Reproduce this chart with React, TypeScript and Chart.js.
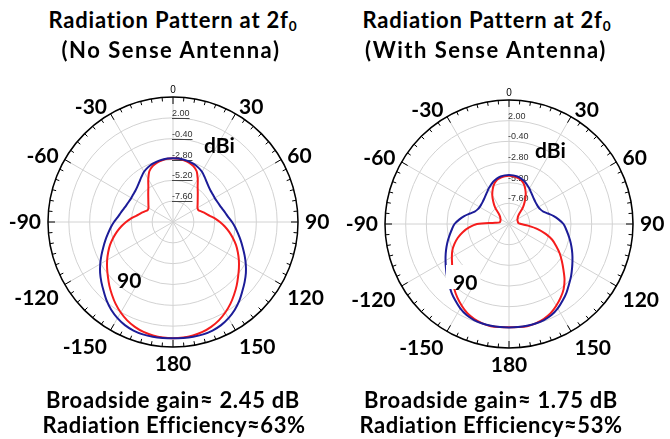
import React, { useEffect, useRef } from 'react';
import { Chart, registerables } from 'chart.js';

Chart.register(...registerables);

// Angle categories (degrees, clockwise from top; 185..355 are -175..-5)
const angles = [
  0, 5, 10, 15, 20, 25, 30, 35, 40, 45, 50, 55, 60, 65, 70, 75, 80, 85,
  90, 95, 100, 105, 110, 115, 120, 125, 130, 135, 140, 145, 150, 155, 160, 165, 170, 175,
  180, 185, 190, 195, 200, 205, 210, 215, 220, 225, 230, 235, 240, 245, 250, 255, 260, 265,
  270, 275, 280, 285, 290, 295, 300, 305, 310, 315, 320, 325, 330, 335, 340, 345, 350, 355,
];

// Angular tick labels
const angleTickValues = [0, 30, 60, 90, 120, 150, 180, 210, 240, 270, 300, 330];
const angleTickLabels = ['0', '30', '60', '90', '120', '150', '180', '-150', '-120', '-90', '-60', '-30'];

// Radial axis (dBi)
const ringValues = [-10, -7.6, -5.2, -2.8, -0.4, 2.0, 4.4];
const radialLabelValues = [2.0, -0.4, -2.8, -5.2, -7.6];

// Left: No Sense Antenna
const leftBlue = [
  -2.66, -2.67, -2.72, -2.79, -2.91, -3.09, -3.32, -3.66, -3.97, -4.21, -4.36, -4.42, -4.45, -4.40, -4.29, -4.12, -3.89, -3.61,
  -3.20, -2.80, -2.40, -1.94, -1.45, -0.90, -0.32, 0.25, 0.77, 1.29, 1.87, 2.38, 2.79, 3.11, 3.31, 3.40, 3.42, 3.41,
  3.40, 3.41, 3.42, 3.40, 3.31, 3.11, 2.79, 2.38, 1.87, 1.29, 0.77, 0.25, -0.32, -0.90, -1.45, -1.94, -2.40, -2.80,
  -3.20, -3.61, -3.89, -4.12, -4.29, -4.40, -4.45, -4.42, -4.36, -4.21, -3.97, -3.66, -3.32, -3.09, -2.91, -2.79, -2.72, -2.67,
];
const leftRed = [
  -2.66, -2.68, -2.77, -2.92, -3.15, -3.55, -4.30, -5.05, -5.56, -5.97, -6.29, -6.54, -6.74, -6.77, -6.49, -6.14, -5.74, -5.16,
  -4.59, -4.01, -3.43, -2.86, -2.28, -1.76, -1.24, -0.73, -0.21, 0.37, 0.94, 1.52, 2.04, 2.50, 2.85, 3.11, 3.27, 3.36,
  3.39, 3.36, 3.27, 3.11, 2.85, 2.50, 2.04, 1.52, 0.94, 0.37, -0.21, -0.73, -1.24, -1.76, -2.28, -2.86, -3.43, -4.01,
  -4.59, -5.16, -5.74, -6.14, -6.49, -6.77, -6.74, -6.54, -6.29, -5.97, -5.56, -5.05, -4.30, -3.55, -3.15, -2.92, -2.77, -2.68,
];

// Right: With Sense Antenna
const rightBlue = [
  -4.31, -4.33, -4.40, -4.54, -4.74, -5.01, -5.26, -5.53, -5.74, -5.90, -6.01, -6.06, -6.06, -5.98, -5.76, -5.30, -4.72, -4.19,
  -3.67, -3.36, -3.03, -2.66, -2.28, -1.89, -1.49, -1.06, -0.59, -0.13, 0.39, 0.86, 1.32, 1.67, 1.87, 1.96, 2.00, 2.01,
  2.01, 2.01, 2.00, 1.96, 1.87, 1.67, 1.32, 0.86, 0.39, -0.13, -0.59, -1.06, -1.49, -1.89, -2.28, -2.66, -3.03, -3.36,
  -3.67, -4.19, -4.72, -5.30, -5.76, -5.98, -6.06, -6.06, -6.01, -5.90, -5.74, -5.53, -5.26, -5.01, -4.74, -4.54, -4.40, -4.33,
];
const rightRed = [
  -4.39, -4.43, -4.54, -4.68, -5.01, -5.53, -6.11, -6.81, -7.48, -8.32, -8.63, -8.77, -8.86, -8.92, -8.94, -8.94, -8.93, -8.89,
  -8.61, -7.79, -6.63, -5.59, -4.66, -3.96, -3.21, -2.51, -1.75, -0.88, -0.13, 0.45, 0.97, 1.44, 1.75, 1.94, 2.05, 2.02,
  2.00, 2.02, 2.05, 1.94, 1.75, 1.44, 0.97, 0.45, -0.13, -0.83, -1.41, -1.93, -2.34, -2.74, -3.26, -3.85, -4.54, -5.35,
  -6.28, -8.37, -8.90, -8.94, -8.94, -8.92, -8.86, -8.77, -8.63, -8.32, -7.48, -6.81, -6.11, -5.53, -5.01, -4.68, -4.54, -4.43,
];

const BLUE = '#1c1c98';
const RED = '#f51c1c';
const GRID = '#d2d2d2';
const LABEL_FONT = 'bold 21px Lato, "Open Sans", sans-serif';

type Decor = {
  underline: boolean;
  dbi: [number, number];
  inner90: [number, number];
  backdrop: boolean;
};

function makeDecor(o: Decor) {
  return {
    id: 'polarDecor',
    beforeDatasetsDraw(chart: any) {
      const s = chart.scales.r;
      const ctx = chart.ctx as CanvasRenderingContext2D;
      ctx.save();
      ctx.font = '9px "Liberation Sans", Arial, sans-serif';
      ctx.fillStyle = '#333';
      ctx.textAlign = 'left';
      ctx.textBaseline = 'alphabetic';
      radialLabelValues.forEach((v) => {
        const txt = v.toFixed(2);
        const d = s.getDistanceFromCenterForValue(v);
        const x = s.xCenter - 1;
        const y = s.yCenter - d;
        ctx.fillText(txt, x, y - 2);
        if (o.underline) {
          const w = ctx.measureText(txt).width;
          ctx.strokeStyle = '#444';
          ctx.lineWidth = 1;
          ctx.beginPath();
          ctx.moveTo(x, Math.round(y) + 0.5);
          ctx.lineTo(x + w, Math.round(y) + 0.5);
          ctx.stroke();
        }
      });
      ctx.restore();
    },
    afterDatasetsDraw(chart: any) {
      const s = chart.scales.r;
      const ctx = chart.ctx as CanvasRenderingContext2D;
      const R = s.getDistanceFromCenterForValue(s.max);
      ctx.save();
      // outer black circle with ticks
      ctx.strokeStyle = '#000';
      ctx.lineWidth = 1.5;
      ctx.beginPath();
      ctx.arc(s.xCenter, s.yCenter, R, 0, Math.PI * 2);
      ctx.stroke();
      ctx.lineWidth = 1;
      angles.forEach((a, i) => {
        const len = a % 30 === 0 ? 7 : 4;
        const p1 = s.getPointPosition(i, R);
        const p2 = s.getPointPosition(i, R - len);
        ctx.beginPath();
        ctx.moveTo(p1.x, p1.y);
        ctx.lineTo(p2.x, p2.y);
        ctx.stroke();
      });
      // angle labels
      ctx.fillStyle = '#000';
      angleTickValues.forEach((a, k) => {
        const idx = angles.indexOf(a);
        const txt = angleTickLabels[k];
        if (a === 0) {
          ctx.font = '10px "Liberation Sans", Arial, sans-serif';
          const p = s.getPointPosition(idx, R + 2);
          ctx.textAlign = 'center';
          ctx.textBaseline = 'bottom';
          ctx.fillText(txt, p.x, p.y);
          return;
        }
        ctx.font = LABEL_FONT;
        const p = s.getPointPosition(idx, R + 7);
        ctx.textAlign = a === 180 ? 'center' : a < 180 ? 'left' : 'right';
        ctx.textBaseline = a > 90 && a < 270 ? 'top' : 'middle';
        ctx.fillText(txt, p.x, p.y);
      });
      // dBi
      ctx.font = LABEL_FONT;
      ctx.textAlign = 'left';
      ctx.textBaseline = 'alphabetic';
      ctx.fillText('dBi', s.xCenter + o.dbi[0], s.yCenter + o.dbi[1]);
      // inner "90"
      const ix = s.xCenter + o.inner90[0];
      const iy = s.yCenter + o.inner90[1];
      if (o.backdrop) {
        const w = ctx.measureText('90').width;
        ctx.fillStyle = '#fff';
        ctx.fillRect(ix - 7, iy - 25, w + 10, 24);
        ctx.fillStyle = '#000';
      }
      ctx.fillText('90', ix, iy);
      ctx.restore();
    },
  };
}

type PlotProps = {
  left: number;
  top: number;
  size: number;
  padding: { left: number; right: number; top: number; bottom: number };
  blue: number[];
  red: number[];
  decor: Decor;
};

function PolarPlot({ left, top, size, padding, blue, red, decor }: PlotProps) {
  const ref = useRef<HTMLCanvasElement | null>(null);
  useEffect(() => {
    if (!ref.current) return;
    const chart = new Chart(ref.current, {
      type: 'radar',
      data: {
        labels: angles.map(String),
        datasets: [
          { data: blue, borderColor: BLUE, borderWidth: 2, pointRadius: 0, fill: false, tension: 0.3 },
          { data: red, borderColor: RED, borderWidth: 2, pointRadius: 0, fill: false, tension: 0.3 },
        ],
      },
      options: {
        responsive: false,
        animation: false,
        events: [],
        layout: { padding },
        plugins: { legend: { display: false }, tooltip: { enabled: false }, title: { display: false } },
        scales: {
          r: {
            min: ringValues[0],
            max: ringValues[ringValues.length - 1],
            afterBuildTicks: (sc: any) => {
              sc.ticks = ringValues.map((v) => ({ value: v }));
            },
            ticks: { display: false },
            pointLabels: { display: false },
            grid: { circular: true, color: GRID, lineWidth: 1 },
            angleLines: {
              color: GRID,
              lineWidth: (c: any) => (angles[c.index] % 30 === 0 ? 1 : 0),
            },
          },
        },
      } as any,
      plugins: [makeDecor(decor)],
    });
    return () => chart.destroy();
  }, []);
  return (
    <canvas
      ref={ref}
      width={size}
      height={size}
      style={{ position: 'absolute', left, top, width: size, height: size }}
    />
  );
}

// Text line placed by its baseline (font 22px Lato in a 30px line box)
function Line({ cx, base, spacing, children }: { cx: number; base: number; spacing: number; children: React.ReactNode }) {
  return (
    <div
      style={{
        position: 'absolute',
        left: cx - 200,
        width: 400,
        top: base - 23.5,
        height: 30,
        lineHeight: '30px',
        textAlign: 'center',
        fontSize: 22,
        letterSpacing: spacing,
        whiteSpace: 'nowrap',
      }}
    >
      {children}
    </div>
  );
}

const sub = <sub style={{ fontSize: '0.62em', verticalAlign: '-0.25em', lineHeight: 0 }}>0</sub>;

export default function App() {
  return (
    <div
      style={{
        position: 'absolute',
        left: 0,
        top: 0,
        width: 670,
        height: 439,
        background: '#fff',
        overflow: 'hidden',
        fontFamily: 'Lato, "Open Sans", sans-serif',
        fontWeight: 700,
        color: '#000',
      }}
    >
      <PolarPlot
        left={0}
        top={60}
        size={335}
        padding={{ left: 48, right: 37, top: 37, bottom: 48 }}
        blue={leftBlue}
        red={leftRed}
        decor={{ underline: true, dbi: [31, -69], inner90: [-56, 66], backdrop: false }}
      />
      <PolarPlot
        left={335}
        top={60}
        size={335}
        padding={{ left: 50, right: 37, top: 40, bottom: 47 }}
        blue={rightBlue}
        red={rightRed}
        decor={{ underline: false, dbi: [26, -66], inner90: [-56, 66], backdrop: true }}
      />
      <Line cx={173} base={28} spacing={0.8}>Radiation Pattern at 2f{sub}</Line>
      <Line cx={171} base={58} spacing={1.5}>(No Sense Antenna)</Line>
      <Line cx={487} base={28} spacing={0.8}>Radiation Pattern at 2f{sub}</Line>
      <Line cx={486} base={58} spacing={1.5}>(With Sense Antenna)</Line>
      <Line cx={173} base={408} spacing={0.7}>Broadside gain≈ 2.45 dB</Line>
      <Line cx={174} base={433} spacing={0.5}>Radiation Efficiency≈63%</Line>
      <Line cx={491} base={408} spacing={0.7}>Broadside gain≈ 1.75 dB</Line>
      <Line cx={491} base={433} spacing={0.5}>Radiation Efficiency≈53%</Line>
    </div>
  );
}
